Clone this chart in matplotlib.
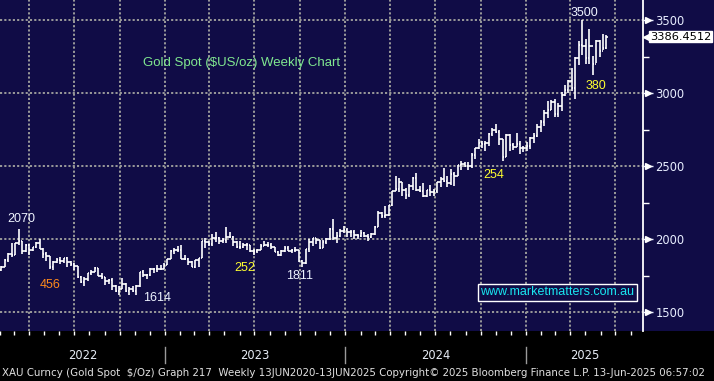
import numpy as np
import pandas as pd
import matplotlib
matplotlib.use('Agg')
import matplotlib.pyplot as plt
import matplotlib.dates as mdates
import matplotlib.transforms as mtransforms
from matplotlib.patches import Rectangle

# weekly XAU bars (week ending Friday), Feb 2022 - Jun 2025
closes_2022 = [1808, 1859, 1898, 1889, 1970, 1988, 1921, 1958, 1925, 1945, 1974, 1932, 1897,
               1883, 1811, 1846, 1853, 1851, 1872, 1840, 1827, 1812, 1742, 1708, 1727, 1766,
               1775, 1802, 1747, 1738, 1712, 1717, 1675, 1644, 1661, 1695, 1644, 1657, 1645,
               1681, 1771, 1751, 1755, 1797, 1797, 1793, 1798, 1824]
highs_2022 = [1813, 1865, 1902, 1974, 1974, 2070, 1989, 1966, 1966, 1948, 1982, 1998, 1936,
              1910, 1886, 1849, 1869, 1874, 1872, 1879, 1847, 1835, 1813, 1745, 1739, 1767,
              1788, 1808, 1802, 1765, 1740, 1729, 1735, 1688, 1675, 1730, 1700, 1669, 1675,
              1682, 1775, 1787, 1761, 1804, 1800, 1824, 1823, 1833]
lows_2022 = [1781, 1807, 1842, 1878, 1890, 1960, 1895, 1910, 1890, 1915, 1940, 1930, 1872,
             1850, 1798, 1787, 1837, 1828, 1836, 1805, 1817, 1785, 1732, 1697, 1681, 1711,
             1754, 1771, 1745, 1727, 1688, 1691, 1654, 1640, 1615, 1660, 1640, 1617, 1638,
             1617, 1673, 1737, 1728, 1744, 1765, 1773, 1785, 1795]

closes_2023 = [1865, 1920, 1926, 1928, 1865, 1865, 1842, 1811, 1856, 1868, 1989, 1978, 1969,
               2007, 2004, 1983, 1990, 2017, 2011, 1978, 1946, 1948, 1961, 1958, 1921, 1919,
               1925, 1955, 1962, 1959, 1943, 1914, 1889, 1915, 1940, 1919, 1924, 1925, 1849,
               1833, 1933, 1981, 2006, 1992, 1940, 1981, 2001, 2072, 2004, 2019, 2053, 2063]
highs_2023 = [1865, 1922, 1937, 1949, 1960, 1890, 1870, 1847, 1858, 1870, 1989, 2009, 1988,
              2032, 2048, 2015, 2009, 2081, 2048, 2022, 1985, 1983, 1970, 1970, 1959, 1934,
              1935, 1963, 1987, 1982, 1973, 1948, 1916, 1922, 1953, 1953, 1932, 1947, 1925,
              1858, 1933, 1997, 2009, 2010, 1993, 1993, 2008, 2075, 2135, 2048, 2071, 2088]
lows_2023 = [1822, 1861, 1896, 1912, 1861, 1855, 1819, 1809, 1804, 1810, 1867, 1936, 1950,
             1950, 1982, 1969, 1975, 1976, 2006, 1952, 1937, 1932, 1940, 1924, 1910, 1893,
             1902, 1922, 1950, 1942, 1929, 1910, 1885, 1884, 1913, 1915, 1901, 1912, 1846,
             1810, 1832, 1908, 1954, 1969, 1932, 1936, 1965, 1994, 1995, 1973, 2016, 2040]

closes_2024 = [2045, 2049, 2029, 2018, 2039, 2024, 2013, 2036, 2083, 2179, 2156, 2165, 2230,
               2330, 2344, 2392, 2337, 2302, 2360, 2415, 2334, 2327, 2293, 2333, 2322, 2326,
               2392, 2411, 2400, 2387, 2443, 2431, 2508, 2512, 2503, 2497, 2577, 2622, 2658,
               2653, 2657, 2721, 2747, 2736, 2685, 2563, 2715, 2643, 2633, 2648, 2623, 2621]
highs_2024 = [2078, 2062, 2062, 2037, 2065, 2049, 2032, 2041, 2088, 2195, 2186, 2223, 2236,
              2330, 2431, 2418, 2390, 2352, 2378, 2422, 2450, 2364, 2387, 2339, 2368, 2340,
              2392, 2424, 2483, 2433, 2477, 2462, 2509, 2531, 2525, 2529, 2586, 2626, 2685,
              2673, 2670, 2724, 2758, 2790, 2750, 2688, 2716, 2721, 2657, 2726, 2668, 2638]
lows_2024 = [2017, 2013, 2002, 2001, 2016, 2015, 1984, 2008, 2025, 2079, 2146, 2146, 2160,
             2229, 2326, 2324, 2292, 2277, 2291, 2333, 2326, 2325, 2287, 2286, 2295, 2293,
             2318, 2353, 2393, 2353, 2371, 2364, 2430, 2470, 2491, 2472, 2485, 2546, 2614,
             2625, 2603, 2639, 2708, 2728, 2643, 2536, 2564, 2605, 2613, 2633, 2583, 2596]

closes_2025 = [2640, 2690, 2703, 2770, 2799, 2861, 2883, 2936, 2858, 2910, 2984, 3023, 3084,
               3037, 3237, 3327, 3319, 3240, 3325, 3202, 3357, 3289, 3310, 3386.45]
highs_2025 = [2665, 2697, 2726, 2786, 2817, 2882, 2942, 2955, 2956, 2930, 3004, 3057, 3087,
              3168, 3245, 3358, 3500, 3368, 3435, 3253, 3366, 3365, 3403, 3399]
lows_2025 = [2602, 2615, 2656, 2699, 2730, 2772, 2832, 2882, 2833, 2833, 2880, 2982, 2999,
             3015, 2957, 3194, 3260, 3202, 3202, 3120, 3205, 3245, 3295, 3300]

first_open = 1791
last_price = 3386.4512

y_ticks = [1500, 2000, 2500, 3000, 3500]
y_minor = [1750, 2250, 2750, 3250]
years = ['2022', '2023', '2024', '2025']

closes = closes_2022 + closes_2023 + closes_2024 + closes_2025
highs = highs_2022 + highs_2023 + highs_2024 + highs_2025
lows = lows_2022 + lows_2023 + lows_2024 + lows_2025
opens = [first_open] + closes[:-1]

weeks = pd.date_range('2022-02-04', periods=len(closes), freq='W-FRI')
x = mdates.date2num(weeks)

#%%
navy = '#100c46'
W, H = 714, 381
plot_right, plot_bottom = 643, 331

fig = plt.figure(figsize=(W / 100, H / 100), dpi=100, facecolor=navy)
fig.patches.append(Rectangle((0, 0), 1, (H - plot_bottom) / H, transform=fig.transFigure,
                             facecolor='black', edgecolor='none', zorder=-5))
ax = fig.add_axes([0, (H - plot_bottom) / H, plot_right / W, plot_bottom / H])
ax.set_facecolor(navy)

x0 = mdates.date2num(pd.Timestamp('2022-02-01'))
x1 = mdates.date2num(pd.Timestamp('2025-08-26'))
ax.set_xlim(x0, x1)
ax.set_ylim(1370, 3637)

# dotted grid
grid_kw = dict(color='#9a9a9a', lw=1.4, linestyle=(0, (1.1, 1.1)), zorder=1)
for v in y_ticks:
    ax.axhline(v, **grid_kw)
for q in pd.date_range('2022-04-01', '2025-07-01', freq='QS'):
    ax.axvline(mdates.date2num(q), **grid_kw)

# OHLC bars
bar_kw = dict(color='white', lw=1.2, zorder=3)
ax.vlines(x, lows, highs, **bar_kw)
ax.hlines(opens, x - 3, x, **bar_kw)
ax.hlines(closes, x, x + 3, **bar_kw)

# axes frame
for s in ['top', 'left', 'bottom']:
    ax.spines[s].set_visible(False)
ax.spines['right'].set_color('white')
ax.spines['right'].set_linewidth(1.3)

ax.yaxis.tick_right()
ax.set_yticks(y_ticks)
ax.set_yticks(y_minor, minor=True)
ax.tick_params(axis='y', which='major', colors='#e8eeff', length=7, width=1, pad=2,
               labelsize=8.3)
ax.tick_params(axis='y', which='minor', colors='white', length=4, width=1)
ax.set_yticklabels([str(v) for v in y_ticks], family='DejaVu Sans')
ytr = mtransforms.blended_transform_factory(ax.transAxes, ax.transData)
ax.plot([1.0075] * len(y_ticks), y_ticks, linestyle='none', marker='>', ms=4.5,
        color='white', transform=ytr, clip_on=False)

ax.xaxis.set_major_locator(mdates.MonthLocator())
ax.tick_params(axis='x', which='major', colors='white', length=3, width=1, labelbottom=False)

# current price box
ax.plot([1.0045], [last_price], linestyle='none', marker='<', ms=5, color='white',
        transform=ytr, clip_on=False)
ax.text(1.0105, last_price, f'{last_price:.4f}', transform=ytr, ha='left', va='center',
        fontsize=8.2, family='DejaVu Sans', color='black', clip_on=False,
        bbox=dict(boxstyle='square,pad=0.08', facecolor='white', edgecolor='white'))

# year labels and separators in the black band
xtr = mtransforms.blended_transform_factory(ax.transData, ax.transAxes)
bounds = [x0] + [mdates.date2num(pd.Timestamp(f'{y}-01-01')) for y in years[1:]] + [x1]
for i, yr in enumerate(years):
    ax.text((bounds[i] + bounds[i + 1]) / 2, -0.0755, yr, transform=xtr, ha='center',
            va='center', fontsize=8.3, color='#e6ecf5', family='DejaVu Sans', clip_on=False)
for b in bounds[1:-1]:
    ax.plot([b, b], [-0.048, -0.098], color='#9a9a9a', lw=1, transform=xtr, clip_on=False)

fig.text(2 / W, 1 - 373 / H, 'XAU Curncy (Gold Spot  $/Oz) Graph 217  Weekly 13JUN2020-13JUN2025 '
         'Copyright\u00a9 2025 Bloomberg Finance L.P. 13-Jun-2025 06:57:02',
         ha='left', va='center', fontsize=7.4, color='#e0e0e0', family='DejaVu Sans')

# chart annotations
ann_kw = dict(ha='center', va='center', fontsize=9, family='Liberation Sans', zorder=5)
ax.text(mdates.date2num(pd.Timestamp('2022-03-16')), 2137, '2070', color='#eef3ff', **ann_kw)
ax.text(mdates.date2num(pd.Timestamp('2022-05-13')), 1685, '456', color='#ff8a1c', **ann_kw)
ax.text(mdates.date2num(pd.Timestamp('2022-12-16')), 1598, '1614', color='#eef3ff', **ann_kw)
ax.text(mdates.date2num(pd.Timestamp('2023-06-11')), 1801, '252', color='#ffff30', **ann_kw)
ax.text(mdates.date2num(pd.Timestamp('2023-10-01')), 1747, '1811', color='#eef3ff', **ann_kw)
ax.text(mdates.date2num(pd.Timestamp('2024-10-28')), 2438, '254', color='#ffff30', **ann_kw)
ax.text(mdates.date2num(pd.Timestamp('2025-05-22')), 3048, '380', color='#ffff30', **ann_kw)
ax.text(mdates.date2num(pd.Timestamp('2025-04-29')), 3548, '3500', color='#eef3ff', **ann_kw)

ax.text(143 / plot_right, 0.8097, 'Gold Spot ($US/oz) Weekly Chart', transform=ax.transAxes,
        ha='left', va='center', fontsize=9.5, family='Liberation Sans', color='#80e890')
ax.text(0.8663, 0.1178, 'www.marketmatters.com.au', transform=ax.transAxes, ha='center',
        va='center', fontsize=9, family='Liberation Sans', color='#19e6f0', zorder=6,
        bbox=dict(boxstyle='square,pad=0.2', facecolor=navy, edgecolor='white', lw=1))

fig.savefig('out.png', dpi=100, facecolor=fig.get_facecolor())
